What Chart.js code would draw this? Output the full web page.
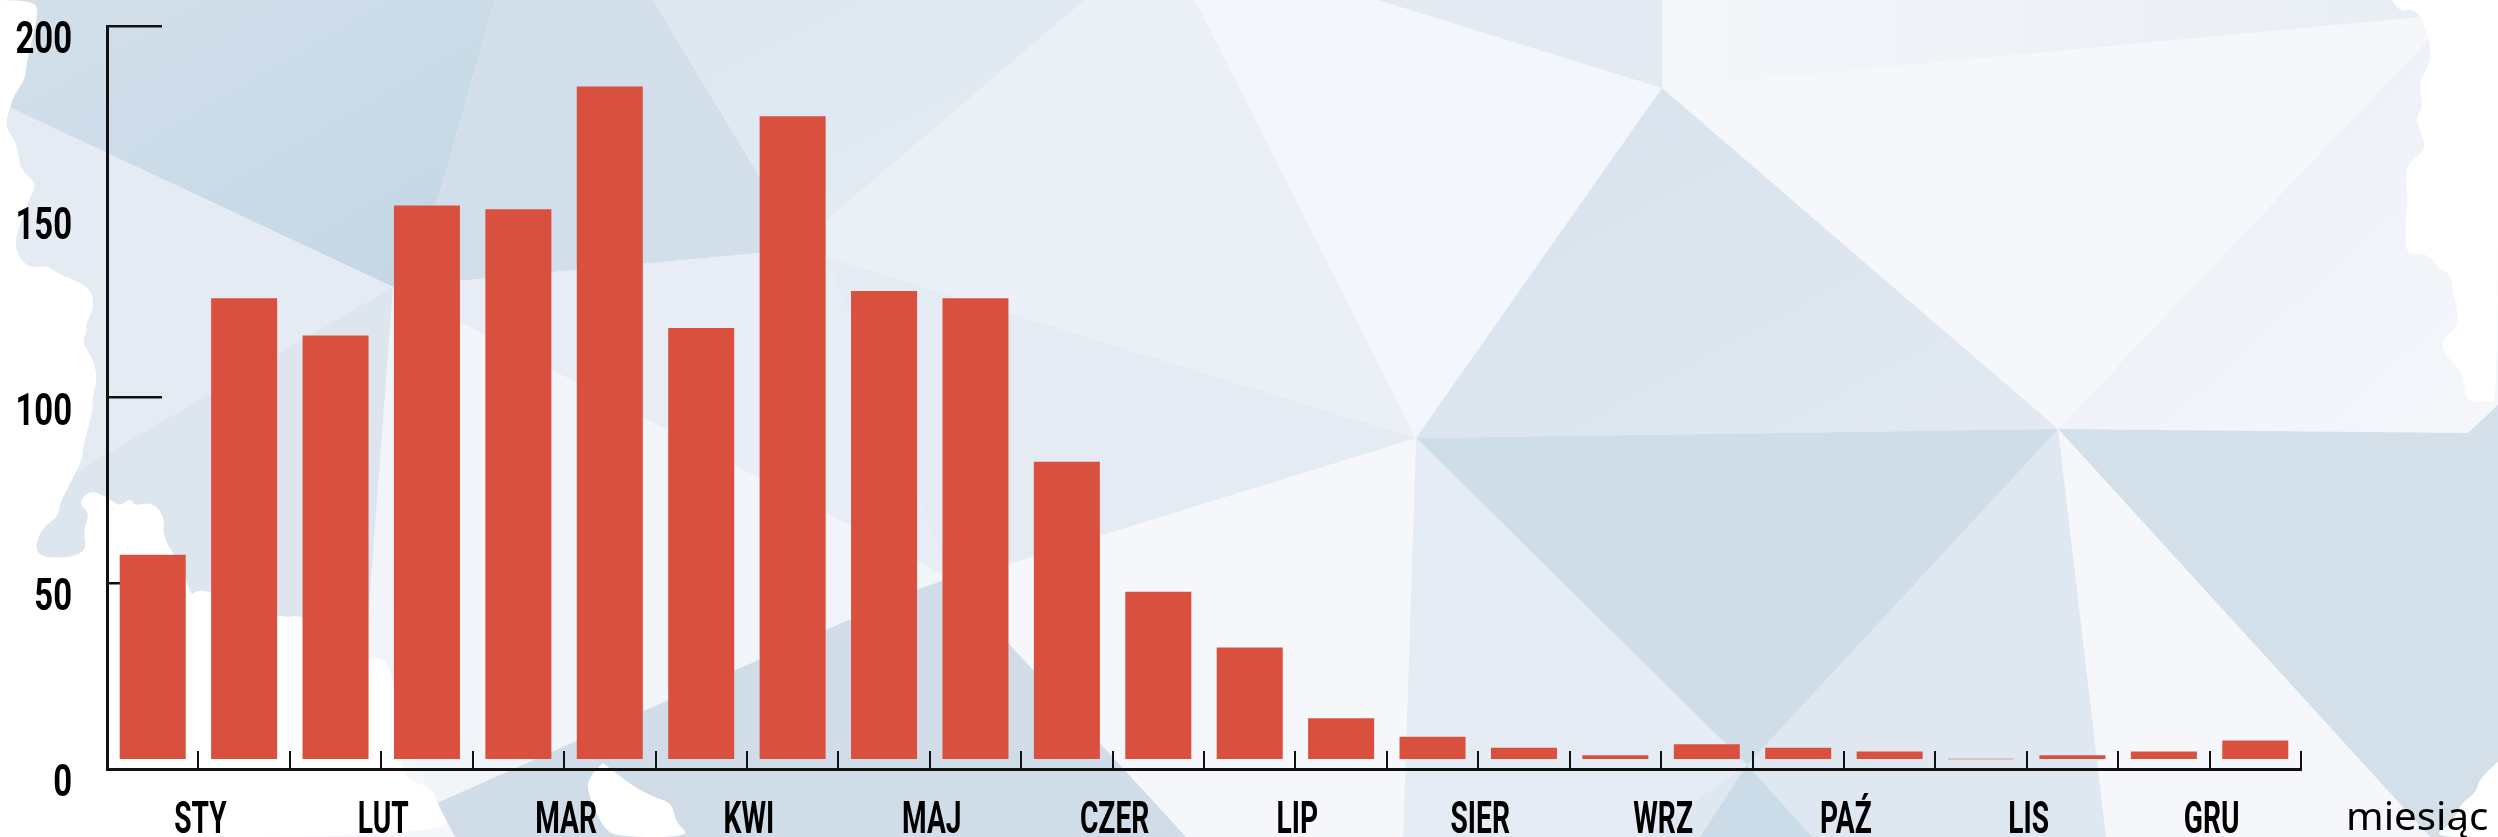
<!DOCTYPE html>
<html lang="pl">
<head>
<meta charset="utf-8">
<title>Wykres miesięczny</title>
<script src="https://cdn.jsdelivr.net/npm/chart.js@4"></script>
<style>
  html, body { margin: 0; padding: 0; background: #fff; }
  #wrap { position: relative; width: 2498px; height: 837px; overflow: hidden; }
  #tlo, #wykres { position: absolute; left: 0; top: 0; }
</style>
</head>
<body>
<div id="wrap">
  <!-- tlo: mapa z trojkatow, czysto dekoracyjna -->
  <svg id="tlo" width="2498" height="837" viewBox="0 0 2498 837">
    <defs>
      <linearGradient id="g1" x1="0" y1="0" x2="1" y2="1"><stop offset="0" stop-color="#d3e0eb"/><stop offset="1" stop-color="#c3d6e5"/></linearGradient>
      <linearGradient id="g2" x1="0" y1="0" x2="1" y2="1"><stop offset="0" stop-color="#d6e2ec"/><stop offset="1" stop-color="#e2e9f2"/></linearGradient>
      <linearGradient id="g3" x1="0" y1="0" x2="1" y2="1"><stop offset="0" stop-color="#e9eef5"/><stop offset="1" stop-color="#f5f7fb"/></linearGradient>
      <linearGradient id="g4" x1="0" y1="0" x2="1" y2="0"><stop offset="0" stop-color="#f4f6fa"/><stop offset="1" stop-color="#e8edf4"/></linearGradient>
      <linearGradient id="g5" x1="0" y1="0" x2="1" y2="1"><stop offset="0" stop-color="#dce7ef"/><stop offset="1" stop-color="#e5ecf3"/></linearGradient>
    </defs>
    <rect width="2498" height="837" fill="#f6f7fb"/>
    <polygon fill="url(#g1)" points="0,0 495,0 437,203 393,287 0,103"/>
    <polygon fill="#d2dfea" points="495,0 653,0 760,177 760,253 393,287 437,203"/>
    <polygon fill="url(#g5)" points="653,0 1085,0 827,220 760,177"/>
    <polygon fill="#ebf0f7" points="1085,0 1195,0 1416,438 826,257 760,253 760,177 827,220"/>
    <polygon fill="#f3f6fa" points="1195,0 1378,0 1662,88 1416,438"/>
    <polygon fill="#e3eaf2" points="1378,0 1662,0 1662,88"/>
    <polygon fill="url(#g4)" points="1662,0 2440,0 2422,17 1662,88"/>
    <polygon fill="#f6f7fb" points="1662,88 2422,17 2430,38 2058,429"/>
    <polygon fill="url(#g2)" points="1662,88 1416,438 2058,429"/>
    <polygon fill="url(#g3)" points="2430,38 2498,30 2498,405 2468,433 2058,429"/>
    <polygon fill="#d3e0ea" points="2058,429 2468,433 2498,405 2498,837 2430,837"/>
    <polygon fill="#f6f7fb" points="2058,429 2430,837 2106,837"/>
    <polygon fill="#dfe7f0" points="2058,429 2106,837 1644,837"/>
    <polygon fill="#cedde8" points="1416,438 2058,429 1747,765"/>
    <polygon fill="#e6ecf4" points="1416,438 1747,765 1644,837 1403,837"/>
    <polygon fill="#cbdbe8" points="1747,765 1812,837 1700,837"/>
    <polygon fill="#f6f7fb" points="1088,337 1416,438 1403,837 1186,837 1010,645"/>
    <polygon fill="#e4ebf2" points="826,257 1416,438 1012,563 950,578"/>
    <polygon fill="#e8edf5" points="393,287 760,253 826,257 950,578"/>
    <polygon fill="#f1f4f9" points="393,287 950,578 916,590 437,803 365,660"/>
    <polygon fill="#e4ebf3" points="0,103 393,287 75,472 0,500"/>
    <polygon fill="#dde6ef" points="393,287 75,472 0,500 0,700 365,660"/>
    <polygon fill="#d0dde9" points="437,803 916,590 950,578 1010,645 1186,837 455,837"/>
    <!-- biale pola poza granica mapy, punkty wygladzane w skrypcie -->
    <path id="bialeLewe" fill="#fff"/>
    <path id="bialeZatoka" fill="#fff"/>
    <path id="bialePrawe" fill="#fff"/>
    <path id="bialeRog" fill="#fff"/>
  </svg>
  <canvas id="wykres" width="2498" height="837"></canvas>
</div>

<script>
// dane
const miesiace = ['STY', 'LUT', 'MAR', 'KWI', 'MAJ', 'CZER', 'LIP', 'SIER', 'WRZ', 'PAŹ', 'LIS', 'GRU'];
const polmiesiace = miesiace.flatMap(m => [m + ' I', m + ' II']);
const wartosci = [55, 124, 114, 149, 148, 181, 116, 173, 126, 124, 80, 45,
                  30, 11, 6, 3, 1, 4, 3, 2, 0, 1, 2, 5];
const podzialkaY = [0, 50, 100, 150, 200];

const CZARNY = '#111111';
const PRZESUNIECIE = 2.69; // slupki stoja troche nad osia

// granice mapy (tlo)
const granicaLewa = [[0,0],[33,0],[39,12],[27,60],[25,80],[15,93],[10,107],[5,127],[17,143],[20,170],[37,183],[30,197],[13,243],[22,262],[33,268],[47,265],[60,275],[80,282],[93,293],[93,310],[86,323],[87,333],[82,342],[95,363],[97,383],[92,397],[93,410],[83,447],[82,460],[72,480],[60,503],[58,517],[43,527],[35,545],[40,557],[70,558],[87,550],[83,530],[90,513],[78,503],[90,490],[107,497],[120,507],[130,498],[135,506],[152,502],[165,517],[162,537],[183,567],[191,597],[196,590],[212,592],[240,602],[279,618],[304,615],[340,635],[368,660],[382,657],[393,673],[400,760],[406,780],[433,788],[437,803],[455,837],[0,837]];
const granicaZatoka = [[603,763],[587,777],[589,797],[603,827],[616,837],[692,837],[676,823],[672,803],[656,798],[634,787],[616,773]];
const granicaPrawa = [[2392,0],[2400,13],[2410,8],[2422,17],[2432,50],[2428,68],[2421,78],[2420,90],[2423,108],[2415,117],[2425,143],[2423,153],[2405,165],[2408,197],[2405,233],[2407,256],[2423,252],[2435,262],[2437,268],[2450,273],[2452,287],[2459,317],[2455,330],[2443,338],[2443,353],[2463,372],[2465,397],[2472,403],[2487,400],[2498,405],[2498,0]];
const granicaRog = [[2498,762],[2480,777],[2476,793],[2461,803],[2453,823],[2430,837],[2498,837]];

function gladko(pkt) {
    let d = `M${pkt[0][0]},${pkt[0][1]} `;
    for (let i = 1; i < pkt.length - 1; i++) {
        const sx = (pkt[i][0] + pkt[i + 1][0]) / 2;
        const sy = (pkt[i][1] + pkt[i + 1][1]) / 2;
        d += `Q${pkt[i][0]},${pkt[i][1]} ${sx},${sy} `;
    }
    const o = pkt[pkt.length - 1];
    return d + `L${o[0]},${o[1]} Z`;
}
document.getElementById('bialeLewe').setAttribute('d', gladko(granicaLewa));
document.getElementById('bialeZatoka').setAttribute('d', gladko(granicaZatoka));
document.getElementById('bialePrawe').setAttribute('d', gladko(granicaPrawa));
document.getElementById('bialeRog').setAttribute('d', gladko(granicaRog));

// etykiety: waskiego kroju nie ma, wiec Roboto sciskane w poziomie
function napis(ctx, tekst, x, y, font, sx, wyrownanie) {
    ctx.save();
    ctx.translate(x, y);
    ctx.scale(sx, 1);
    ctx.font = font;
    ctx.textAlign = wyrownanie;
    ctx.textBaseline = 'alphabetic';
    ctx.fillStyle = '#000';
    ctx.fillText(tekst, 0, 0);
    ctx.restore();
}

const opisyOsi = {
    id: 'opisyOsi',
    afterDraw(chart) {
        const ctx = chart.ctx;
        const sx = chart.scales.x2;
        sx.ticks.forEach((t, i) => {
            napis(ctx, t.label, sx.getPixelForTick(i) + 2, 833, 'bold 44px Roboto', 0.64, 'center');
        });
        const sy = chart.scales.y;
        sy.ticks.forEach(t => {
            napis(ctx, String(t.value), 72, sy.getPixelForValue(t.value) + 27, 'bold 45px Roboto', 0.73, 'right');
        });
        napis(ctx, 'miesiąc', 2346, 830, '38px "Noto Sans"', 1.06, 'left');
    }
};

new Chart(document.getElementById('wykres').getContext('2d'), {
    type: 'bar',
    data: {
        labels: polmiesiace,
        datasets: [{
            data: wartosci,
            yAxisID: 'ySlupki',
            backgroundColor: '#d9503f',
            barPercentage: 0.722,
            categoryPercentage: 1,
            minBarLength: 0.6
        }]
    },
    options: {
        responsive: false,
        animation: false,
        layout: { autoPadding: false, padding: { left: 0, top: 26, right: 197, bottom: 0 } },
        plugins: { legend: { display: false }, title: { display: false }, tooltip: { enabled: false } },
        scales: {
            x: {
                position: 'bottom',
                grid: { offset: true, drawOnChartArea: false, drawTicks: true, tickLength: -18, lineWidth: 2, color: CZARNY },
                border: { display: true, color: CZARNY, width: 3 },
                ticks: { display: false },
                afterFit(s) { s.height = 0; }
            },
            x2: {
                type: 'category',
                labels: miesiace,
                position: 'bottom',
                grid: { display: false, drawTicks: false },
                border: { display: false },
                ticks: { display: false, autoSkip: false, maxRotation: 0 },
                afterFit(s) { s.height = 68; }
            },
            y: {
                position: 'left',
                min: 0,
                max: 200,
                afterBuildTicks(s) { s.ticks = podzialkaY.map(v => ({ value: v })); },
                grid: {
                    drawOnChartArea: false,
                    drawTicks: true,
                    tickLength: -55,
                    lineWidth: 2.5,
                    // w oryginale przy 150 nie ma kreski
                    tickColor: c => (c.tick.value === 150 ? 'transparent' : CZARNY),
                    color: CZARNY
                },
                border: { display: true, color: CZARNY, width: 3 },
                ticks: { display: false },
                afterFit(s) { s.width = 107; }
            },
            ySlupki: {
                display: false,
                position: 'left',
                min: -PRZESUNIECIE,
                max: 200 - PRZESUNIECIE
            }
        }
    },
    plugins: [opisyOsi]
});
</script>
</body>
</html>
